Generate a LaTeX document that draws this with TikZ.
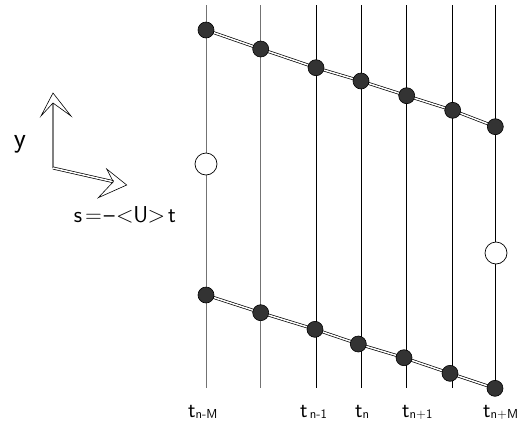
\documentclass[tikz,border=0pt]{standalone}
\usepackage{fontspec}
\pgfdeclarelayer{background}
\pgfsetlayers{background,main}
\begin{document}
\begin{tikzpicture}[x=1pt,y=-1pt,
  dot/.style={circle,draw=black,fill=black!80,minimum size=16pt,inner sep=0pt,line width=0.6pt},
  hole/.style={circle,draw=black,fill=white,minimum size=22pt,inner sep=0pt,line width=0.7pt},
  gline/.style={line width=0.9pt,draw=black!55},
  bline/.style={line width=0.8pt,draw=black},
  rail/.style={draw=black,line width=0.7pt,double=white,double distance=1.5pt},
  lab/.style={font=\sffamily\fontsize{22}{22}\selectfont,inner sep=0pt,anchor=base west},
  big/.style={font=\sffamily\fontsize{23}{23}\selectfont,inner sep=0pt},
  head/.style={draw=black,line width=0.6pt,line join=miter}]
\useasboundingbox (0,0) rectangle (517,424);
\newcommand{\tsub}[1]{t\raisebox{-1.5pt}{\fontsize{13}{13}\selectfont #1}}
\newcommand{\cell}[1]{\makebox[15.7pt]{#1}}
% open circles
\node[hole] (h1) at (206,164) {};
\node[hole] (h2) at (496,253) {};
% upper dots
\node[dot] (u1) at (206,30) {};
\node[dot] (u2) at (260.7,49) {};
\node[dot] (u3) at (316,67.7) {};
\node[dot] (u4) at (361,81) {};
\node[dot] (u5) at (406.7,95.7) {};
\node[dot] (u6) at (452.7,110.3) {};
\node[dot] (u7) at (495.3,126.7) {};
% lower dots
\node[dot] (l1) at (206,295) {};
\node[dot] (l2) at (260.7,312.7) {};
\node[dot] (l3) at (315,329.3) {};
\node[dot] (l4) at (358.3,344) {};
\node[dot] (l5) at (404,357.7) {};
\node[dot] (l6) at (450,373.3) {};
\node[dot] (l7) at (495,388.3) {};
\begin{pgfonlayer}{background}
% vertical time lines
\foreach \n/\x in {1/206,2/260.7}{
  \coordinate (T\n) at (\x,5); \coordinate (B\n) at (\x,388);
  \draw[gline] (T\n) -- (B\n);}
\foreach \n/\x in {3/316,4/361,5/406.7,6/452.7,7/495.3}{
  \coordinate (T\n) at (\x,5); \coordinate (B\n) at (\x,388);
  \draw[bline] (T\n) -- (B\n);}
\draw[rail] (u1.center) -- (u2.center) -- (u3.center) -- (u4.center) -- (u5.center) -- (u6.center) -- (u7.center);
\draw[rail] (l1.center) -- (l2.center) -- (l3.center) -- (l4.center) -- (l5.center) -- (l6.center) -- (l7.center);
\end{pgfonlayer}
% labels
\node[lab] (t1) at (188,417) {\tsub{n-M}};
\node[lab] (t3) at (300,417) {\tsub{\,n-1}};
\node[lab] (t4) at (355,417) {\tsub{n}};
\node[lab] (t5) at (402,417) {\tsub{n+1}};
\node[lab] (t7) at (483,417) {\tsub{n+M}};
% axes
\coordinate (o) at (53,168);
\coordinate (vn) at (53,103);
\coordinate (vt) at (53,93);
\coordinate (hn) at (113.3,181.7);
\coordinate (ht) at (126.7,185);
\draw[draw=black!50,line width=2.2pt] (o) -- (vn);
\draw[head] (vt) -- (41,116) -- (vn) -- (71,116) -- cycle;
\draw[rail] (o) -- (hn);
\draw[head] (ht) -- (106.7,169) -- (hn) -- (98.3,197.7) -- cycle;
\node[big,font=\sffamily\fontsize{28}{28}\selectfont] (ylab) at (20,144) {y};
\node[big] (slab) at (125,215) {\cell{s}\cell{=}\cell{\textendash}\cell{<}\cell{U}\cell{>}\cell{t}};
\end{tikzpicture}
\end{document}
